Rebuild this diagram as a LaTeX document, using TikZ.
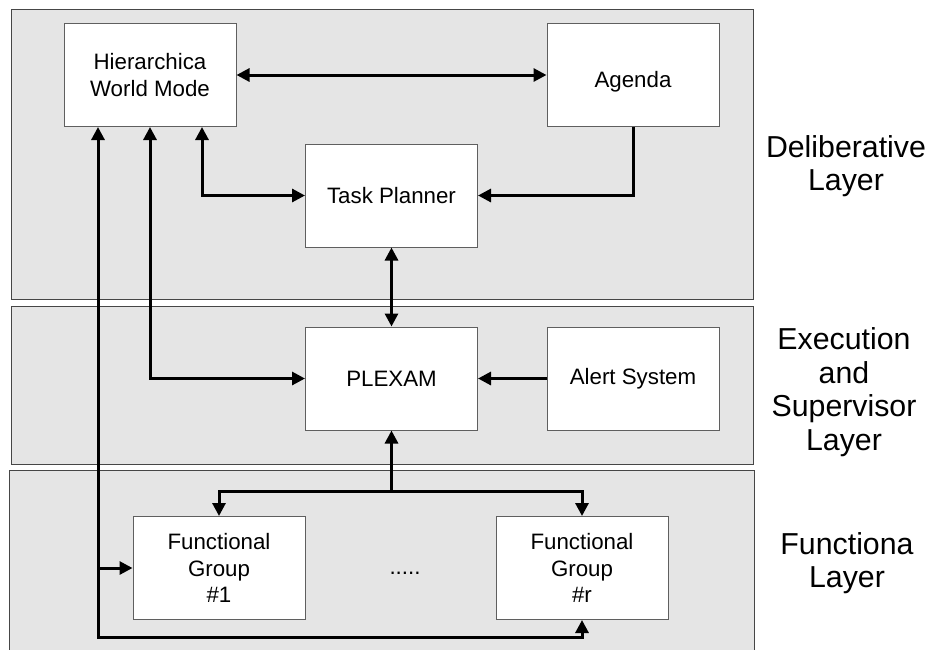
\documentclass[tikz,border=0pt]{standalone}
\usepackage{fontspec}
\setmainfont{Liberation Sans}
\usetikzlibrary{arrows.meta}
\definecolor{panelfill}{RGB}{229,229,229}
\definecolor{panelline}{RGB}{70,70,70}
\definecolor{boxline}{RGB}{95,95,95}
\tikzset{
  panel/.style={fill=panelfill, draw=panelline, line width=1pt},
  boxtext/.style={font=\fontsize{22.3}{26.5}\selectfont},
  blk/.style={draw=boxline, fill=white, line width=1pt, minimum width=172pt, minimum height=103pt, inner sep=0pt, align=center, boxtext},
  arr/.style={line width=3pt, line join=miter, arrows={-Triangle[length=13pt,width=13pt]}},
  arrb/.style={line width=3pt, line join=miter, arrows={Triangle[length=13pt,width=13pt]-Triangle[length=13pt,width=13pt]}},
  lay/.style={align=center, font=\fontsize{30.3}{33.5}\selectfont},
}
\begin{document}
\begin{tikzpicture}[x=1pt,y=-1pt]
\useasboundingbox (0,0) rectangle (928,649);
\clip (0,0) rectangle (928,649);
% layer panels
\path[panel] (11,9) rectangle (753,299);
\path[panel] (11,306) rectangle (753,464);
\fill[panelfill] (9,470) rectangle (754,660);
\draw[panelline, line width=1pt] (9,660) -- (9,470) -- (754,470) -- (754,660);
% boxes
\node[blk] (hwm) at (150,75) {Hierarchica\\World Mode};
\node[blk] (agenda) at (633,75) {};
\node[boxtext] (agendatxt) at (633,82) {Agenda};
\node[blk] (tp) at (391.5,195.5) {Task Planner};
\node[blk] (plexam) at (391.5,378.5) {PLEXAM};
\node[blk] (alert) at (633,378.5) {Alert System};
\node[blk] (fg1) at (219,568) {Functional\\Group\\\#1};
\node[blk] (fgr) at (582,568) {Functional\\Group\\\#r};
\node[boxtext] (dots) at (405,573) {.....};
% layer labels
\node[lay] (ldel) at (846,166) {Deliberative\\Layer};
\node[lay] (lexe) at (844,392) {Execution\\and\\Supervisor\\Layer};
\node[lay] (lfun) at (847,563) {Functiona\\Layer};
% connectors
\draw[arrb] (hwm.east) -- (agenda.west);
\draw[arr] (agenda.south) |- (tp.east);
\draw[arrb] ([xshift=52pt]hwm.south) |- (tp.west);
\draw[arrb] (tp.south) -- (plexam.north);
\draw[arrb] (hwm.south) |- (plexam.west);
\draw[arr] (alert.west) -- (plexam.east);
\coordinate (j) at (391.5,491);
\draw[arrb] (fg1.north) |- (j) -| (fgr.north);
\draw[arr] (j) -- (plexam.south);
\coordinate (b) at (98,637);
\draw[arrb] ([xshift=-52pt]hwm.south) -- (b) -| (fgr.south);
\draw[arr] (b |- fg1.west) -- (fg1.west);
\end{tikzpicture}
\end{document}
